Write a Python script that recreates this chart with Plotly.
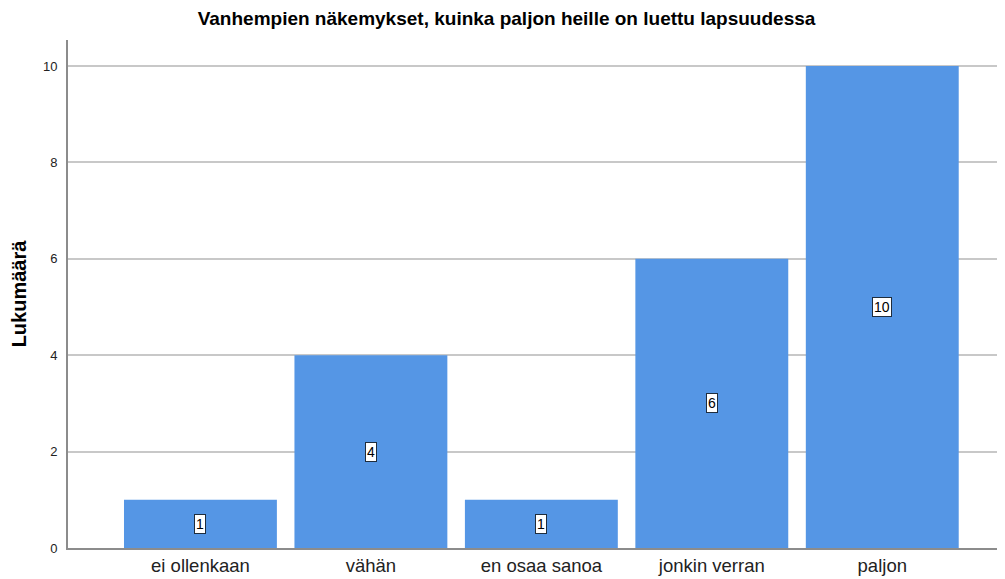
import plotly.graph_objects as go

categories = ["ei ollenkaan", "vähän", "en osaa sanoa", "jonkin verran", "paljon"]
counts = [1, 4, 1, 6, 10]
y_ticks = [0, 2, 4, 6, 8, 10]

title_text = "Vanhempien näkemykset, kuinka paljon heille on luettu lapsuudessa"
y_title = "Lukumäärä"

fig = go.Figure()
fig.add_trace(go.Bar(
    x=categories, y=counts, width=0.897,
    marker=dict(color="#5596E5", line=dict(width=0)),
    hoverinfo="skip",
))

for c, v in zip(categories, counts):
    fig.add_annotation(
        x=c, y=v / 2, text=str(v), showarrow=False,
        font=dict(family="Arial", size=14, color="#000"),
        bgcolor="white", bordercolor="#1f2d3d", borderwidth=1, borderpad=1,
    )

# page body has an 8px margin; compensate so the plot lands where the reference has it
fig.update_layout(
    width=997, height=571,
    margin=dict(l=60, r=0, t=32, b=31),
    paper_bgcolor="white", plot_bgcolor="white",
    showlegend=False,
    title=dict(text="<b>" + title_text + "</b>", x=0.5, xanchor="center",
               y=1 - 10 / 571, yanchor="middle",
               font=dict(family="Arial", size=19, color="#000")),
    font=dict(family="Arial", color="#000"),
)
fig.update_xaxes(
    range=[-0.777, 4.72], showgrid=False, showline=True, linecolor="#8c8c8c",
    linewidth=2, ticks="", tickfont=dict(family="Arial", size=18.5, color="#222"),
    fixedrange=True,
)
fig.update_yaxes(
    range=[0, 10.54], tickvals=y_ticks, showgrid=True, gridcolor="#c8c8c8",
    gridwidth=1.5, showline=True, linecolor="#8c8c8c", linewidth=2, ticks="",
    ticklabelstandoff=6, zeroline=False,
    tickfont=dict(family="Arial", size=13, color="#222"),
    title=dict(text="<b>" + y_title + "</b>", font=dict(family="Arial", size=20, color="#000"), standoff=16),
)
fig.write_html("out.html")
